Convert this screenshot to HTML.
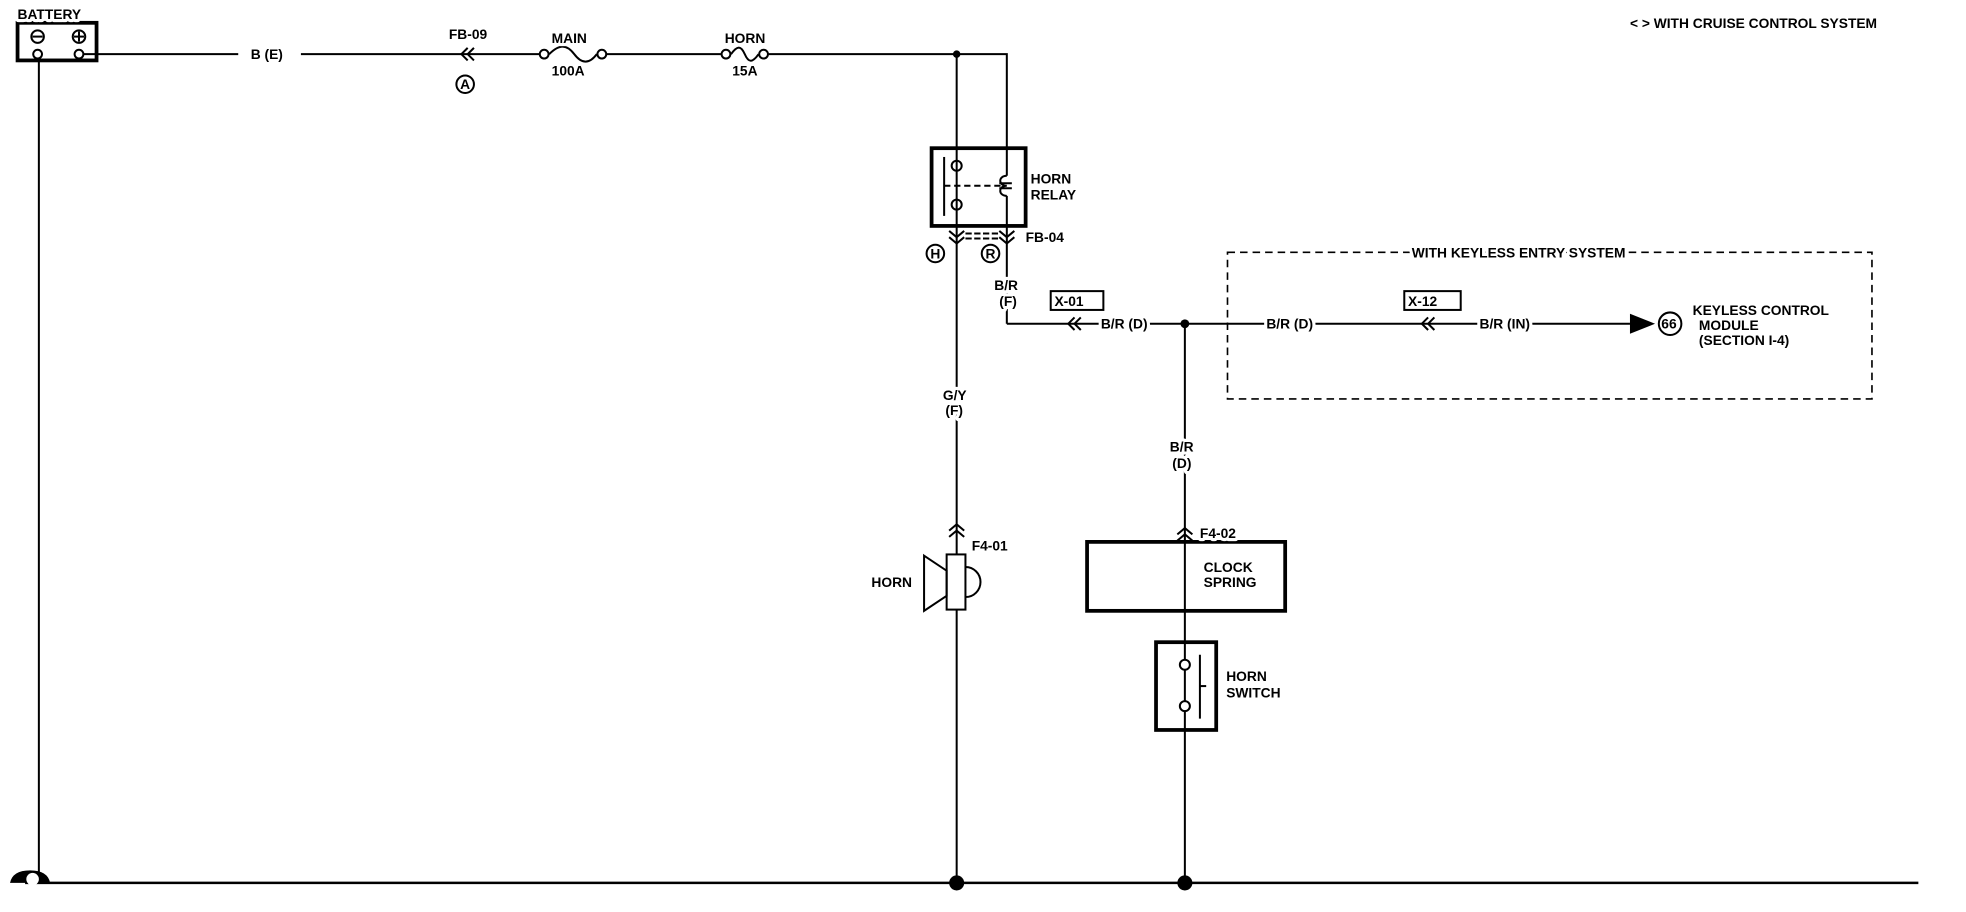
<!DOCTYPE html>
<html><head><style>body{margin:0;background:#fff}svg{display:block}text{font-family:"Liberation Sans",sans-serif;font-weight:bold;font-size:11px;fill:#000;stroke:#fff;stroke-width:5px;paint-order:stroke;stroke-linejoin:round}</style></head>
<body>
<svg width="1966" height="912" viewBox="0 0 1568 727" xmlns="http://www.w3.org/2000/svg">
<g fill="none" stroke="#000" stroke-width="1.6">
<rect x="14" y="18" width="63" height="30" stroke-width="3"/>
<circle cx="30" cy="29" r="5"/><line x1="26" y1="29" x2="34" y2="29"/>
<circle cx="63" cy="29" r="5"/><line x1="59" y1="29" x2="67" y2="29"/><line x1="63" y1="25" x2="63" y2="33"/>
<circle cx="30" cy="43" r="3.5"/><circle cx="63" cy="43" r="3.5"/>
<line x1="31" y1="47" x2="31" y2="704"/>
<polyline points="66,43 190,43"/><polyline points="240,43 430,43"/>
<path d="M373,38 l-5,5 l5,5 M378,38 l-5,5 l5,5"/>
<circle cx="371" cy="67" r="7"/>
<circle cx="434" cy="43" r="3.5"/><circle cx="480" cy="43" r="3.5"/><path d="M438,43 c8,-8 14,-8 20,0 s12,8 18,0"/>
<line x1="484" y1="43" x2="575" y2="43"/>
<circle cx="579" cy="43" r="3.5"/><circle cx="609" cy="43" r="3.5"/><path d="M583,43 c5,-7 8,-7 11,0 s6,7 11,0"/>
<polyline points="613,43 803,43 803,140"/>
<line x1="763" y1="43" x2="763" y2="704"/>
<rect x="743" y="118" width="75" height="62" stroke-width="3"/>
<circle cx="763" cy="132" r="4"/><circle cx="763" cy="163" r="4"/>
<line x1="753" y1="125" x2="753" y2="172"/>
<line x1="753" y1="148" x2="800" y2="148" stroke-dasharray="5,3"/>
<path d="M803,140 c-7,0 -7,8 0,8 c-7,0 -7,8 0,8 M797,146 h10 M797,150 h10"/>
<line x1="803" y1="156" x2="803" y2="258"/>
<path d="M757,184 l6,5 l6,-5 M757,189 l6,5 l6,-5 M797,184 l6,5 l6,-5 M797,189 l6,5 l6,-5"/>
<line x1="770" y1="186" x2="796" y2="186" stroke-dasharray="5,2"/><line x1="770" y1="190" x2="796" y2="190" stroke-dasharray="5,2"/>
<circle cx="746" cy="202" r="7"/><circle cx="790" cy="202" r="7"/>
<polyline points="803,258 1300,258"/>
<path d="M857,253 l-5,5 l5,5 M862,253 l-5,5 l5,5"/>
<path d="M1139,253 l-5,5 l5,5 M1144,253 l-5,5 l5,5"/>
<rect x="838" y="232" width="42" height="15"/><rect x="1120" y="232" width="45" height="15"/>
<line x1="945" y1="258" x2="945" y2="704"/>
<rect x="979" y="201" width="514" height="117" stroke-dasharray="6,4" stroke-width="1.3"/>
<circle cx="1332" cy="258" r="9"/>
<path d="M757,423 l6,-5 l6,5 M757,428 l6,-5 l6,5"/>
<rect x="755" y="442" width="15" height="44" fill="#fff"/>
<polygon points="737,443 755,455 755,475 737,487"/>
<path d="M770,452 a12,12 0 0 1 0,24"/>
<path d="M939,426 l6,-5 l6,5 M939,431 l6,-5 l6,5"/>
<rect x="867" y="432" width="158" height="55" stroke-width="3"/>
<rect x="922" y="512" width="48" height="70" stroke-width="3"/>
<circle cx="945" cy="530" r="4" fill="#fff"/><circle cx="945" cy="563" r="4" fill="#fff"/>
<line x1="957" y1="522" x2="957" y2="573"/><line x1="957" y1="547" x2="962" y2="547"/>
<line x1="20" y1="704" x2="1530" y2="704" stroke-width="2"/>
</g>
<circle cx="763" cy="43" r="3"/><circle cx="945" cy="258" r="3.5"/>
<circle cx="763" cy="704" r="6"/><circle cx="945" cy="704" r="6"/>
<polygon points="1300,250 1320,258 1300,266"/>
<path d="M8,704 q2,-10 16,-10 q14,0 16,10 z"/><circle cx="26" cy="701" r="5" fill="#fff"/>
<text x="14" y="15">BATTERY</text>
<text x="200" y="47">B (E)</text>
<text x="358" y="31">FB-09</text>
<text x="367" y="71" font-size="9" style="stroke:none">A</text>
<text x="440" y="34">MAIN</text><text x="440" y="60">100A</text>
<text x="578" y="34">HORN</text><text x="584" y="60">15A</text>
<text x="1300" y="22">&lt; &gt; WITH CRUISE CONTROL SYSTEM</text>
<text x="822" y="146">HORN</text><text x="822" y="159">RELAY</text>
<text x="818" y="193">FB-04</text>
<text x="742" y="206" font-size="9" style="stroke:none">H</text><text x="786" y="206" font-size="9" style="stroke:none">R</text>
<text x="793" y="231">B/R</text><text x="797" y="244">(F)</text>
<text x="841" y="244" style="stroke:none">X-01</text>
<text x="878" y="262">B/R (D)</text>
<text x="1010" y="262">B/R (D)</text>
<text x="1123" y="244" style="stroke:none">X-12</text>
<text x="1180" y="262">B/R (IN)</text>
<text x="1126" y="205">WITH KEYLESS ENTRY SYSTEM</text>
<text x="1325" y="262" font-size="9" style="stroke:none">66</text>
<text x="1350" y="251">KEYLESS CONTROL</text><text x="1355" y="263">MODULE</text><text x="1355" y="275">(SECTION I-4)</text>
<text x="752" y="319">G/Y</text><text x="754" y="331">(F)</text>
<text x="933" y="360">B/R</text><text x="935" y="373">(D)</text>
<text x="775" y="439">F4-01</text><text x="695" y="468">HORN</text>
<text x="957" y="429">F4-02</text>
<text x="960" y="456">CLOCK</text><text x="960" y="468">SPRING</text>
<text x="978" y="543">HORN</text><text x="978" y="556">SWITCH</text>
</svg>
</body></html>
